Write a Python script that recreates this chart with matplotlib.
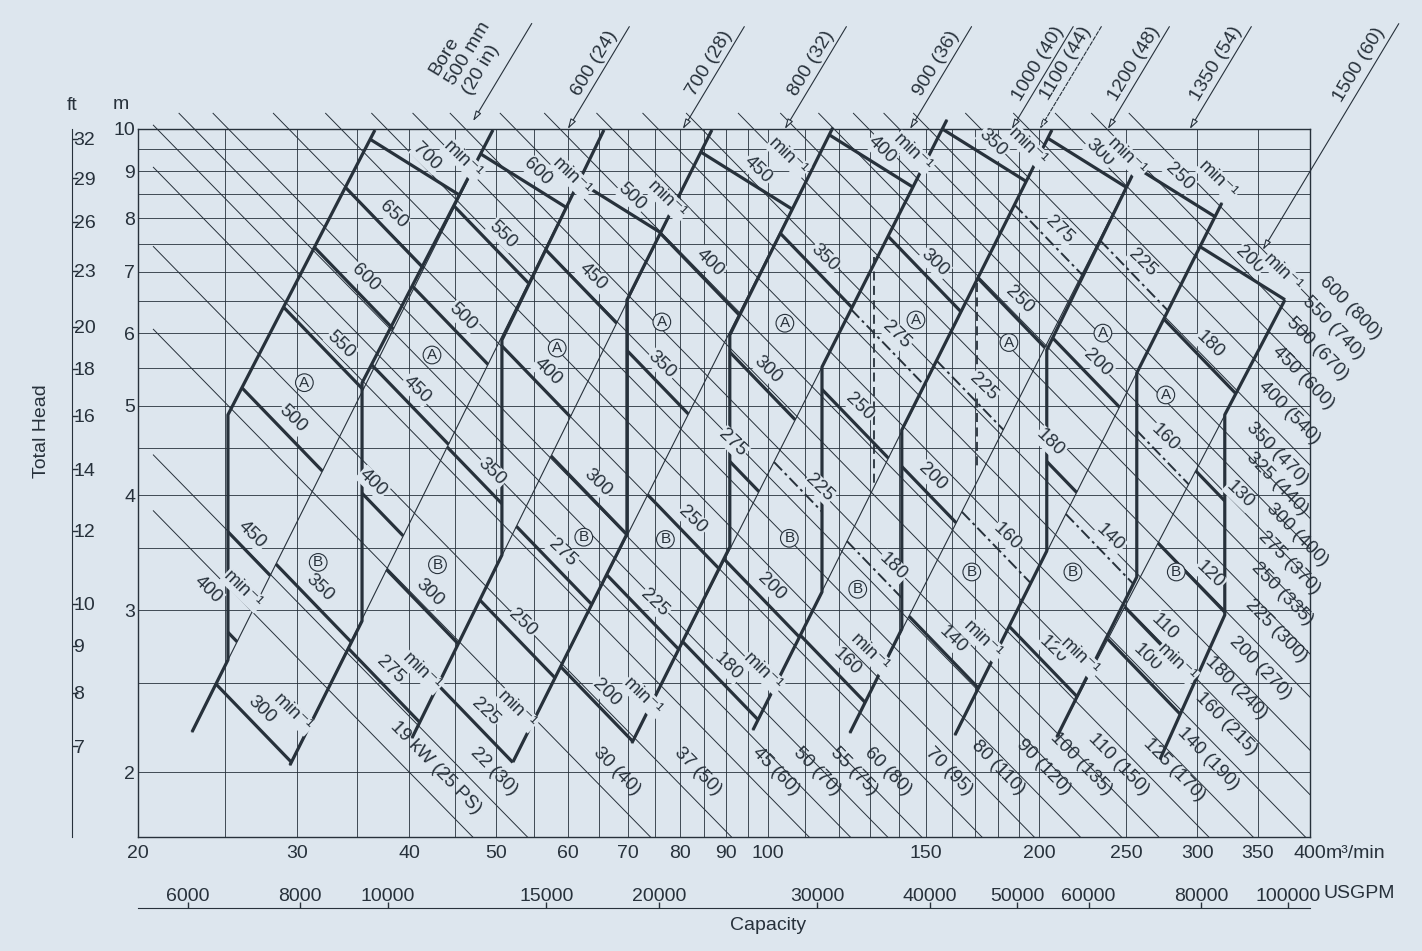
import numpy as np
import matplotlib.pyplot as plt

plt.rcParams['font.family'] = ['Liberation Sans', 'DejaVu Sans']

BG = '#dde6ee'
INK = '#27313b'

# grid and ticks
grid_q = [20, 25, 30, 35, 40, 45, 50, 55, 60, 65, 70, 75, 80, 85, 90, 95, 100,
          110, 120, 130, 140, 150, 160, 170, 180, 190, 200, 250, 300, 350, 400]
grid_h = [2, 2.5, 3, 3.5, 4, 4.5, 5, 5.5, 6, 6.5, 7, 7.5, 8, 8.5, 9, 9.5, 10]
q_ticks = [20, 30, 40, 50, 60, 70, 80, 90, 100, 150, 200, 250, 300, 350, 400]
h_ticks = [2, 3, 4, 5, 6, 7, 8, 9, 10]
ft_ticks = [7, 8, 9, 10, 12, 14, 16, 18, 20, 23, 26, 29, 32]
gpm_ticks = [6000, 8000, 10000, 15000, 20000, 30000, 40000, 50000, 60000, 80000, 100000]

# shaft power lines kW (PS); each line is Q*H = const
power_kw = [19, 22, 30, 37, 45, 50, 55, 60, 70, 80, 90, 100, 110, 125, 140,
            160, 180, 200, 225, 250, 275, 300, 325, 350, 400, 450, 500, 550, 600]
power_ps = [25, 30, 40, 50, 60, 70, 75, 80, 95, 110, 120, 135, 150, 170, 190,
            215, 240, 270, 300, 335, 370, 400, 440, 470, 540, 600, 670, 740, 800]
power_qh = [80, 92, 126, 155, 189, 210, 231, 252, 294, 336, 378, 420, 462, 525, 588,
            672, 756, 845, 965, 1075, 1185, 1295, 1400, 1510, 1725, 1950, 2170, 2380, 2620]
# capacity at which some power labels sit (others sit near the line end)
label_q = {19: 45.9, 125: 292, 140: 318, 160: 333, 180: 342, 200: 364, 225: 379, 250: 385,
           275: 392, 300: 400, 325: 380, 350: 380, 400: 392, 450: 406, 500: 421,
           550: 438, 600: 458}

# bore band boundaries, top to bottom (Q m3/min, H m)
bounds = [
    ([36.65, 25.17, 25.17, 22.96], [9.975, 4.891, 2.648, 2.211]),
    ([49.55, 35.46, 35.46, 29.49], [9.975, 5.297, 2.919, 2.035]),
    ([65.80, 50.70, 50.70, 40.29], [9.975, 5.897, 3.443, 2.178]),
    ([86.71, 69.79, 69.79, 52.15], [9.975, 6.518, 3.629, 2.051]),
    ([118.1, 90.78, 90.78, 70.68], [10.03, 5.971, 3.513, 2.151]),
    ([158.1, 114.9, 114.9, 96.31], [10.23, 5.512, 3.139, 2.222]),
    ([206.8, 140.9, 140.9, 123.4], [9.975, 4.708, 2.861, 2.206]),
    ([258.9, 204.1, 204.1, 161.4], [9.253, 5.751, 3.478, 2.194]),
    ([319.3, 256.9, 256.9, 209.4], [8.309, 5.430, 3.259, 2.183]),
    ([375.1, 321.7, 321.7, 272.5], [6.518, 4.891, 2.963, 2.063]),
]
# 1100 mm (dashed) band sides
dash_q = [131.2, 170.8]
dash_h_top = [7.258, 6.801]
dash_h_bot = [4.081, 4.260]

# speed labels (min-1): text, capacity, head, kind (t top curve, n curve, d dashed curve, m unit only)
rpm_text = ['700', 'min⁻¹', '650', '600', '550', '500', '450', '400', 'min⁻¹', '350', '300', 'min⁻¹',
            '600', 'min⁻¹', '550', '500', '450', '400', '350', '300', '275', 'min⁻¹',
            '500', 'min⁻¹', '450', '400', '300', '275', '250', '225', 'min⁻¹',
            '450', 'min⁻¹', '400', '350', '250', '225', '200', 'min⁻¹',
            '400', 'min⁻¹', '350', '300', '275', '225', '200', '180', 'min⁻¹',
            '350', 'min⁻¹', '300', '275', '250', '180', '160', 'min⁻¹',
            '300', 'min⁻¹', '275', '250', '225', '200', '160', '140', 'min⁻¹',
            '250', 'min⁻¹', '225', '200', '180', '140', '120', 'min⁻¹',
            '200', 'min⁻¹', '180', '160', '130', '120', '110', '100', 'min⁻¹']
rpm_q = [41.85, 45.91, 38.38, 35.73, 33.60, 29.72, 26.76, 23.92, 26.15, 31.84, 27.45, 29.72,
         55.59, 60.63, 50.83, 45.91, 40.80, 36.46, 49.44, 42.18, 38.09, 41.32,
         70.68, 77.30, 63.98, 57.03, 64.80, 59.26, 53.50, 48.56, 52.68,
         97.55, 105.3, 86.28, 76.32, 82.61, 74.96, 66.30, 72.70,
         133.9, 144.9, 115.8, 100.1, 91.50, 114.3, 101.1, 90.34, 98.80,
         177.9, 194.5, 153.3, 139.1, 126.6, 137.7, 122.5, 129.9,
         233.7, 250.5, 211.0, 190.5, 173.4, 152.5, 184.4, 160.5, 173.4,
         286.8, 316.0, 260.9, 232.5, 205.7, 239.8, 207.3, 222.1,
         342.9, 373.2, 309.6, 276.0, 334.3, 309.6, 276.0, 263.6, 284.6]
rpm_h = [9.323, 9.253, 8.063, 6.886, 5.824, 4.839, 3.620, 3.154, 3.154, 3.170, 2.336, 2.318,
         8.979, 8.868, 7.670, 6.246, 5.203, 4.124, 4.239, 3.131, 2.582, 2.569,
         8.435, 8.372, 6.904, 5.443, 4.124, 3.461, 2.904, 2.324, 2.336,
         9.024, 9.323, 7.150, 5.539, 3.758, 3.053, 2.438, 2.413,
         9.488, 9.417, 7.240, 5.470, 4.557, 4.072, 3.178, 2.602, 2.569,
         9.656, 9.559, 7.150, 5.971, 4.986, 3.341, 2.634, 2.694,
         9.417, 9.323, 7.766, 6.518, 5.242, 4.186, 3.602, 2.784, 2.784,
         8.868, 8.802, 7.150, 5.567, 4.557, 3.593, 2.715, 2.668,
         7.204, 6.973, 5.824, 4.614, 4.002, 3.275, 2.875, 2.661, 2.628]
rpm_kind = ['t', 'm', 'n', 'n', 'n', 'n', 'n', 'n', 'm', 'n', 'n', 'm',
            't', 'm', 'n', 'n', 'n', 'n', 'n', 'n', 'n', 'm',
            't', 'm', 'n', 'n', 'n', 'n', 'n', 'n', 'm',
            't', 'm', 'n', 'n', 'n', 'n', 'n', 'm',
            't', 'm', 'n', 'n', 'n', 'd', 'n', 'n', 'm',
            't', 'm', 'n', 'd', 'n', 'd', 'n', 'm',
            't', 'm', 'd', 'n', 'd', 'n', 'd', 'n', 'm',
            't', 'm', 'd', 'n', 'n', 'd', 'n', 'm',
            't', 'm', 'n', 'd', 'n', 'n', 'n', 'n', 'm']

# circled region marks
mark_a_q = [30.6, 42.4, 58.4, 76.3, 104.5, 146.1, 185.3, 235.6, 276.7]
mark_a_h = [5.30, 5.68, 5.78, 6.17, 6.15, 6.20, 5.86, 6.00, 5.14]
mark_b_q = [31.7, 43.0, 62.5, 77.0, 105.7, 125.9, 168.5, 218.2, 284.2]
mark_b_h = [3.38, 3.36, 3.60, 3.58, 3.59, 3.16, 3.30, 3.30, 3.30]

# bore sizes and where their arrows point
bore_text = ['Bore\n500 mm\n(20 in)', '600 (24)', '700 (28)', '800 (32)', '900 (36)',
             '1000 (40)', '1100 (44)', '1200 (48)', '1350 (54)', '1500 (60)']
bore_q = [47.1, 60.0, 80.5, 104.5, 143.9, 186.6, 200.5, 238.6, 294.2, 354.6]
bore_h = [10.2, 10.0, 10.0, 10.0, 10.0, 10.0, 10.0, 10.0, 10.0, 7.39]

QMIN, QMAX, HMIN, HMAX = 20, 400, 1.7, 10
AX_W, AX_H = 1172, 708
SX = AX_W / np.log10(QMAX / QMIN)
SY = AX_H / np.log10(HMAX / HMIN)

fig = plt.figure(figsize=(14.22, 9.51), dpi=100, facecolor=BG)
ax = fig.add_axes([138 / 1422, 1 - 837 / 951, AX_W / 1422, AX_H / 951])
ax.set_facecolor(BG)
ax.set_xscale('log')
ax.set_yscale('log')
ax.set_xlim(QMIN, QMAX)
ax.set_ylim(HMIN, HMAX)
for s in ax.spines.values():
    s.set_color(INK)
    s.set_linewidth(1.0)

ax.vlines(grid_q, HMIN, HMAX, color=INK, lw=0.6, zorder=1)
ax.hlines(grid_h, QMIN, QMAX, color=INK, lw=0.6, zorder=1)

ax.set_xticks(q_ticks)
ax.set_xticklabels([str(q) for q in q_ticks])
ax.set_yticks(h_ticks)
ax.set_yticklabels([str(h) for h in h_ticks])
ax.minorticks_off()
ax.tick_params(length=0, labelsize=14, colors=INK)
ax.tick_params(axis='x', pad=6)
ax.tick_params(axis='y', pad=2)
ax.annotate('m³/min', xy=(QMAX, HMIN), xytext=(11, -6), textcoords='offset points',
            ha='left', va='top', fontsize=14, color=INK, annotation_clip=False)
ax.text(-0.008, 1.035, 'm', transform=ax.transAxes, ha='right', va='center', fontsize=14, color=INK)

# shaft power lines
ang_kw = -np.degrees(np.arctan(SY / SX))
for kw, ps, qh in zip(power_kw, power_ps, power_qh):
    q0 = max(20.8, qh / 10.4)
    q1 = min(QMAX, qh / HMIN)
    qq = np.array([q0, q1])
    ax.plot(qq, qh / qq, color=INK, lw=0.7, zorder=2, clip_on=False)
    lab = '19 kW (25 PS)' if kw == 19 else f'{kw} ({ps})'
    qa = label_q.get(kw, q1 * 0.93)
    ax.annotate(lab, xy=(qa, qh / qa), xytext=(7, 7), textcoords='offset points',
                rotation=ang_kw, rotation_mode='anchor', ha='right', va='bottom',
                fontsize=13.5, color=INK, zorder=5, annotation_clip=False)


# geometry helpers in display-like log space
def to_xy(q, h):
    return np.column_stack([np.log10(q) * SX, np.log10(h) * SY])


def x_on_line(a, b, y):
    return a[0] + (b[0] - a[0]) * (y - a[1]) / (b[1] - a[1])


def x_on_poly(poly, y):
    ys, xs = poly[::-1, 1], poly[::-1, 0]
    if y > ys[-1]:
        return x_on_line(poly[0], poly[1], y)
    if y < ys[0]:
        return x_on_line(poly[-2], poly[-1], y)
    return np.interp(y, ys, xs)


def extend(poly, L=120.0):
    a = poly[0] + (poly[0] - poly[1]) / np.linalg.norm(poly[0] - poly[1]) * L
    b = poly[-1] + (poly[-1] - poly[-2]) / np.linalg.norm(poly[-1] - poly[-2]) * L
    return np.vstack([a, poly, b])


def hits(p, d, poly):
    out = []
    for a, b in zip(poly[:-1], poly[1:]):
        e = b - a
        m = np.array([[d[0], -e[0]], [d[1], -e[1]]])
        if abs(np.linalg.det(m)) < 1e-9:
            continue
        t, s = np.linalg.solve(m, a - p)
        if -1e-6 <= s <= 1 + 1e-6:
            out.append(t)
    return out


bxy = [to_xy(np.array(q), np.array(h)) for q, h in bounds]
dxy = [np.array([bxy[k][-1], bxy[k + 1][0]]) for k in range(len(bxy) - 1)]

# bore boundaries and A/B dividers
for bq, bh in bounds:
    ax.plot(bq, bh, color=INK, lw=2.3, zorder=3, solid_capstyle='butt', clip_on=False)
for k in range(len(bounds) - 1):
    ax.plot([bounds[k][0][-1], bounds[k + 1][0][0]], [bounds[k][1][-1], bounds[k + 1][1][0]],
            color=INK, lw=0.8, zorder=2, clip_on=False)
for q, h0, h1 in zip(dash_q, dash_h_top, dash_h_bot):
    ax.plot([q, q], [h0, h1], color=INK, lw=1.3, ls=(0, (5, 3)), zorder=3)

# speed curves, drawn just under their labels
for t, q, h, kind in zip(rpm_text, rpm_q, rpm_h, rpm_kind):
    if kind == 'm':
        continue
    L = to_xy(np.array([q]), np.array([h]))[0]
    xs = [x_on_poly(b, L[1]) for b in bxy]
    k = int(np.clip(sum(x <= L[0] for x in xs) - 1, 0, len(bxy) - 2))
    xd = x_on_line(dxy[k][0], dxy[k][1], L[1])
    if L[0] < xd:
        left, right = extend(bxy[k]), extend(dxy[k], 200)
    else:
        left, right = extend(dxy[k], 200), extend(bxy[k + 1])
    th = np.radians(32 if kind == 't' else 46)
    d = np.array([np.cos(th), -np.sin(th)])
    n = np.array([-np.sin(th), -np.cos(th)])
    p = L + 15 * n
    hl, hr = hits(p, d, left), hits(p, d, right)
    if not hl or not hr:
        continue
    tl, tr = min(hl, key=abs), min(hr, key=abs)
    if tl >= tr:
        continue
    seg = np.array([p + tl * d, p + tr * d])
    ls = (0, (6, 2, 1.5, 2)) if kind == 'd' else '-'
    lw = 1.4 if kind == 'd' else 2.3
    ax.plot(10 ** (seg[:, 0] / SX), 10 ** (seg[:, 1] / SY), color=INK, lw=lw, ls=ls,
            zorder=3, solid_capstyle='butt', clip_on=False)

for t, q, h in zip(rpm_text, rpm_q, rpm_h):
    ax.text(q, h, t, rotation=-44, ha='center', va='center', fontsize=13.5, color=INK, zorder=6,
            bbox=dict(boxstyle='square,pad=0.05', fc=BG, ec='none'))

# region marks
for lab, qs, hs in (('A', mark_a_q, mark_a_h), ('B', mark_b_q, mark_b_h)):
    for q, h in zip(qs, hs):
        ax.text(q, h, lab, ha='center', va='center', fontsize=11, color=INK, zorder=6,
                bbox=dict(boxstyle='circle,pad=0.12', fc=BG, ec=INK, lw=0.8))

# bore leaders
ang = np.deg2rad(59)
u = np.array([np.cos(ang), np.sin(ang)])
perp = np.array([-np.sin(ang), np.cos(ang)])
for i, (t, q, h) in enumerate(zip(bore_text, bore_q, bore_h)):
    if i == 9:
        L_, d_, p_ = 190, 150, 9
    elif i == 0:
        L_, d_, p_ = 82, 40, 28
    else:
        L_, d_, p_ = 86, 50, 8
    ls = '--' if i == 6 else '-'
    ax.annotate('', xy=(q, h), xytext=tuple(L_ * u), textcoords='offset points',
                arrowprops=dict(arrowstyle='-|>,head_length=0.6,head_width=0.18', lw=0.8,
                                color=INK, fc=BG, ls=ls, shrinkA=0, shrinkB=0),
                annotation_clip=False, zorder=7)
    off = d_ * u + p_ * perp
    ax.annotate(t, xy=(q, h), xytext=tuple(off), textcoords='offset points',
                rotation=59, ha='center', va='center', fontsize=14, color=INK,
                multialignment='left', linespacing=1.15, annotation_clip=False)

# feet axis
axf = fig.add_axes([72 / 1422, 1 - 837 / 951, 0.0001, AX_H / 951])
axf.set_facecolor('none')
axf.set_yscale('log')
axf.set_ylim(HMIN * 3.28084, HMAX * 3.28084)
for k in ('top', 'bottom', 'right'):
    axf.spines[k].set_visible(False)
axf.spines['left'].set_color(INK)
axf.set_xticks([])
axf.set_yticks(ft_ticks)
axf.set_yticklabels([str(f) for f in ft_ticks])
axf.minorticks_off()
axf.tick_params(axis='y', left=True, right=False, labelleft=False, labelright=True,
                direction='in', length=4, width=1, pad=1, labelsize=14, colors=INK)
axf.text(0, 1.0325, 'ft', transform=axf.transAxes, ha='center', va='center', fontsize=14, color=INK)

# USGPM axis
axg = fig.add_axes([138 / 1422, 1 - 908 / 951, AX_W / 1422, 0.0001])
axg.set_facecolor('none')
axg.set_xscale('log')
axg.set_xlim(QMIN / 0.003785, QMAX / 0.003785)
for k in ('top', 'left', 'right'):
    axg.spines[k].set_visible(False)
axg.spines['bottom'].set_color(INK)
axg.set_yticks([])
axg.set_xticks(gpm_ticks)
axg.set_xticklabels([str(g) for g in gpm_ticks])
axg.minorticks_off()
axg.tick_params(axis='x', bottom=True, top=False, labelbottom=False, labeltop=True,
                direction='in', length=4, width=1, pad=2, labelsize=14, colors=INK)
axg.annotate('USGPM', xy=(1.0, 0), xycoords='axes fraction', xytext=(10, 4),
             textcoords='offset points', ha='left', va='bottom', fontsize=14, color=INK)

fig.text(768 / 1422, 1 - 925 / 951, 'Capacity', ha='center', va='center', fontsize=14, color=INK)
fig.text(42 / 1422, 1 - 431 / 951, 'Total Head', rotation=90, ha='center', va='center',
         fontsize=14, color=INK)

fig.savefig('out.png', dpi=100, facecolor=BG)
